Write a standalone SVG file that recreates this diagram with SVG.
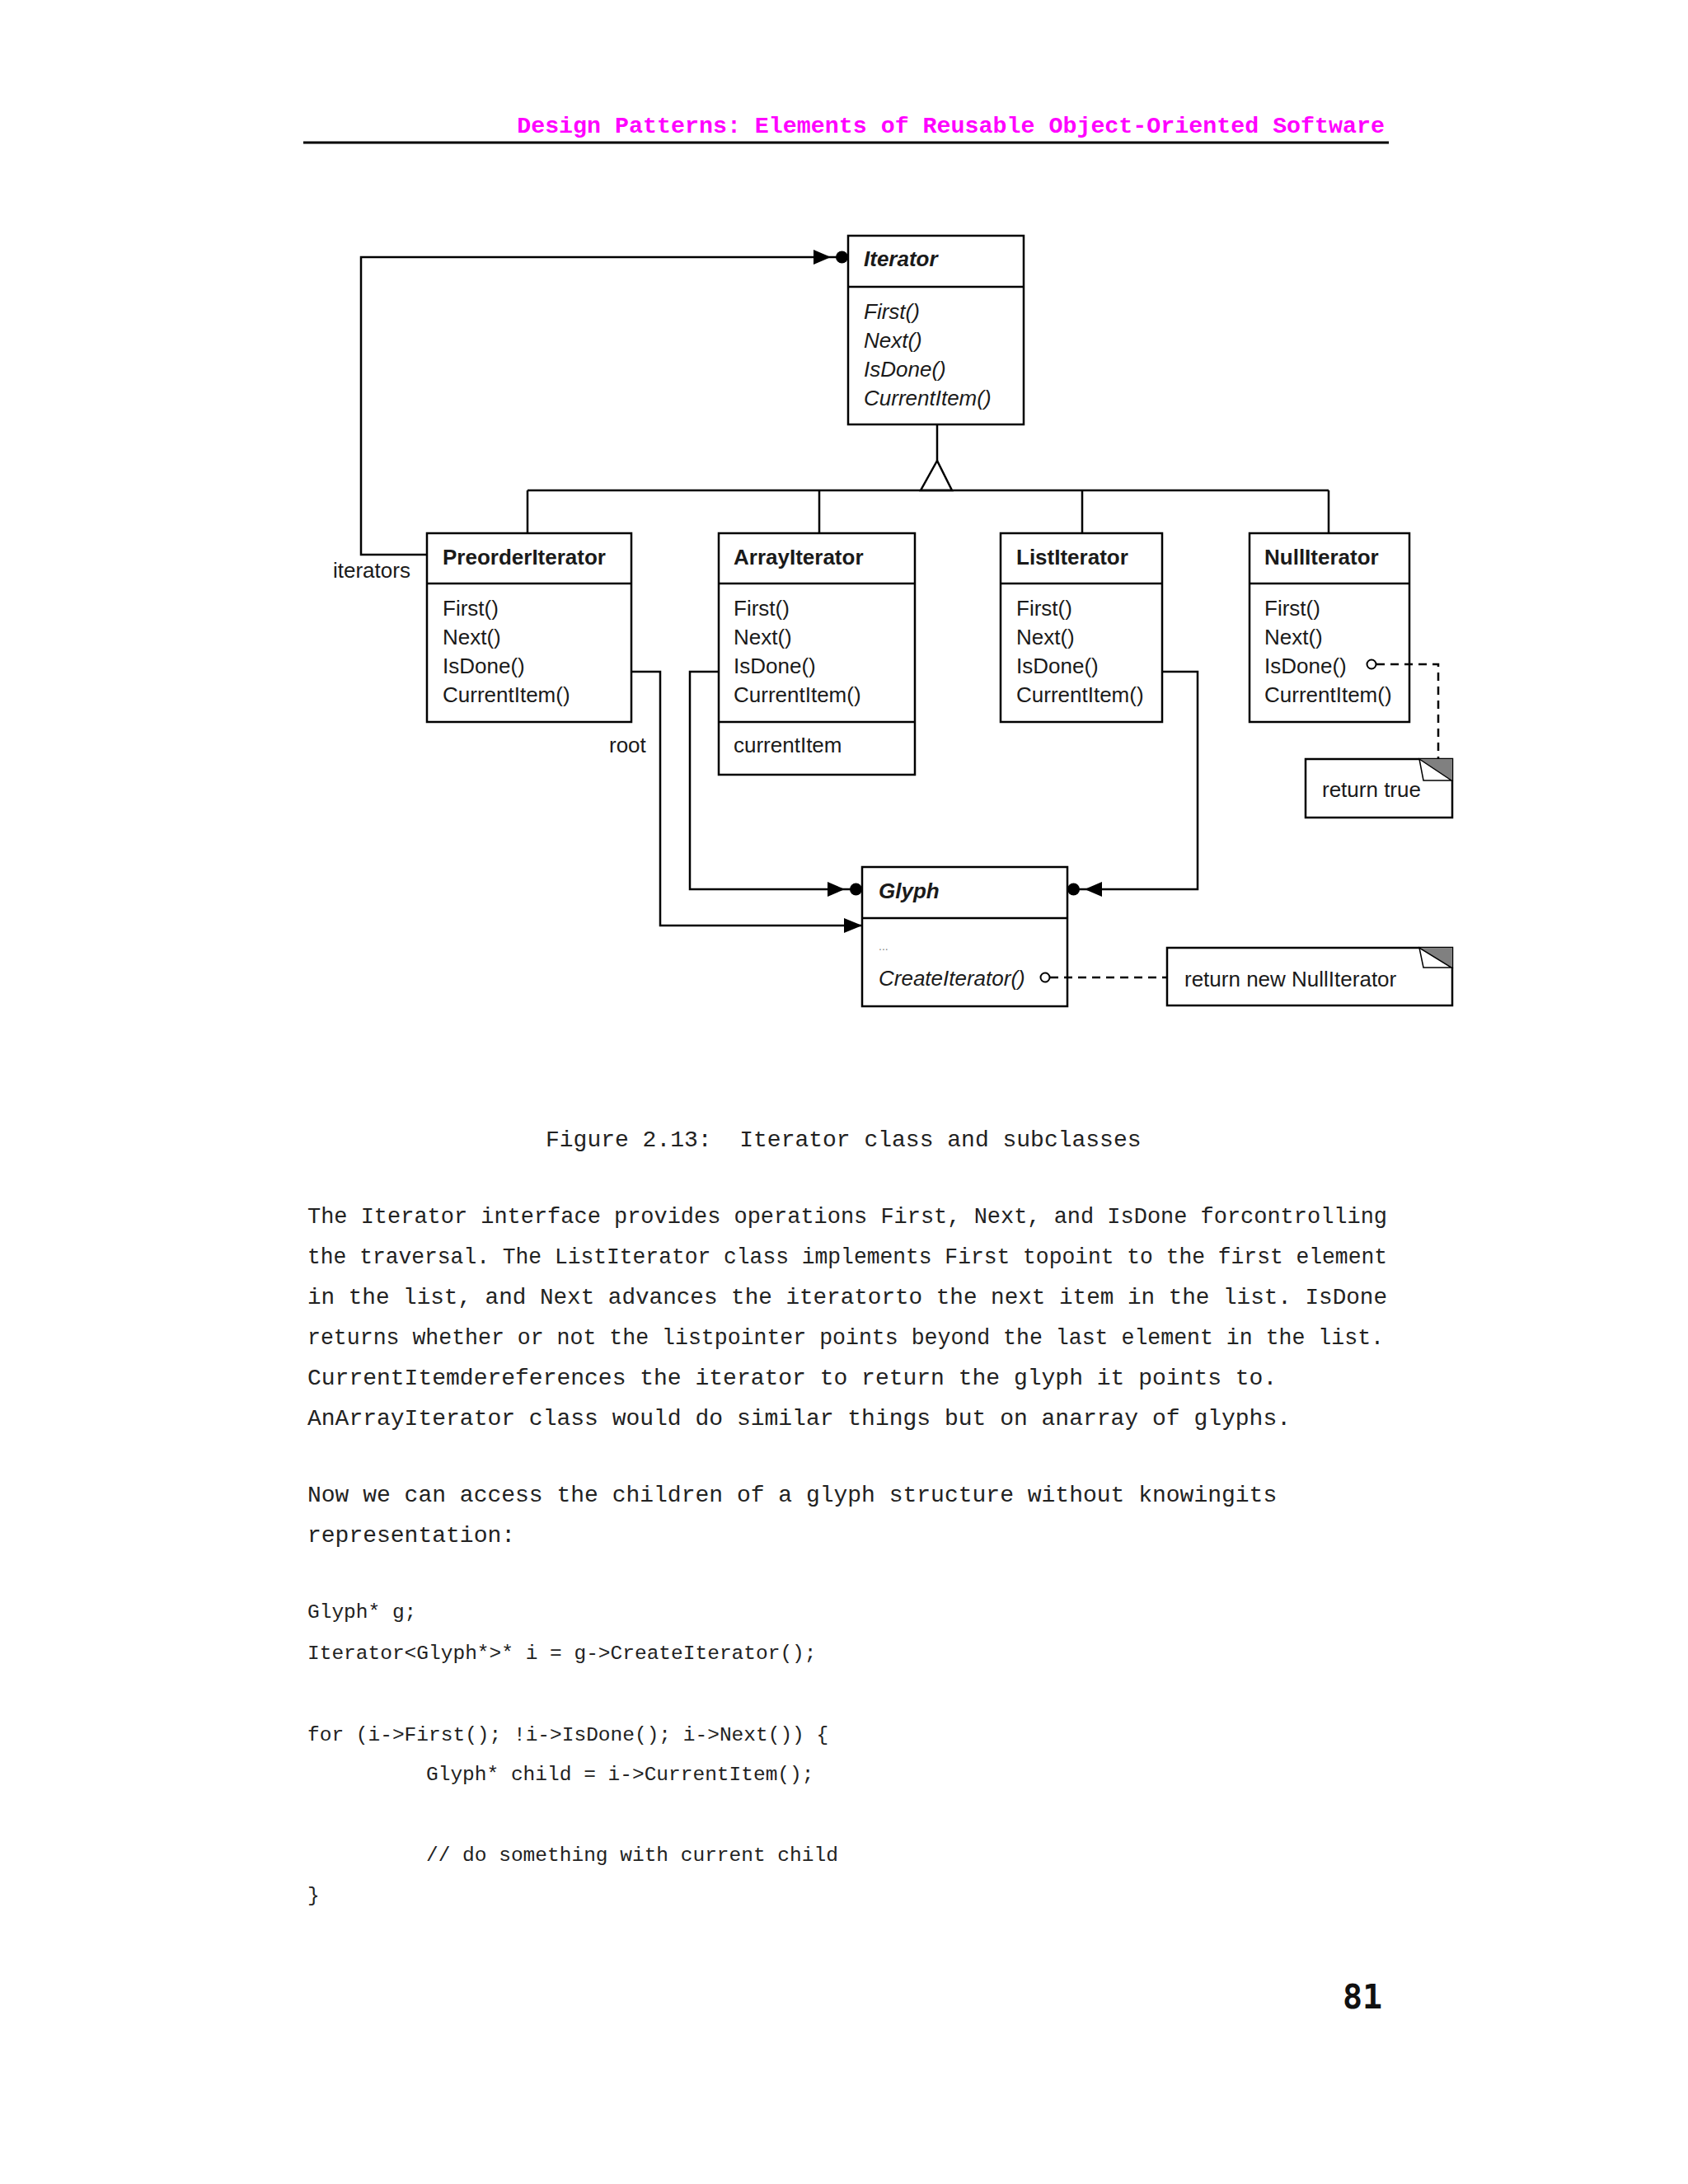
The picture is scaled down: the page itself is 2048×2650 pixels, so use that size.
<svg xmlns="http://www.w3.org/2000/svg" width="2048" height="2650" viewBox="0 0 2048 2650">
<style>
.bg{fill:#ffffff}
.box{fill:#ffffff;stroke:#000;stroke-width:2.5}
.div{stroke:#000;stroke-width:2.5}
.conn{fill:none;stroke:#000;stroke-width:2.5}
.dash{fill:none;stroke:#000;stroke-width:2.5;stroke-dasharray:10 7}
.t{font-family:"Liberation Sans",Arial,sans-serif;font-size:26px;fill:#1a1a1a}
.b{font-weight:bold}
.i{font-style:italic}
.mono{font-family:"Liberation Mono","Courier New",monospace;fill:#222}
.body{font-size:28px}
.code{font-size:24.5px}
.hdr{font-family:"Liberation Mono","Courier New",monospace;font-size:28.3px;font-weight:bold;fill:#ff00ff}
.ear{fill:#808080}
.fold{fill:#ffffff;stroke:#000;stroke-width:1.5}
.pin{fill:#ffffff;stroke:#000;stroke-width:2}
</style>
<defs>
<marker id="arrowDot" markerUnits="userSpaceOnUse" viewBox="-46 -12 48 24" refX="0" refY="0" markerWidth="48" markerHeight="24" orient="auto">
<polygon points="-42,-9 -42,9 -21,0" fill="#000"/>
<circle cx="-7.5" cy="0" r="7.5" fill="#000"/>
</marker>
<marker id="arrow" markerUnits="userSpaceOnUse" viewBox="-26 -12 28 24" refX="0" refY="0" markerWidth="28" markerHeight="24" orient="auto">
<polygon points="-22,-9 -22,9 0,0" fill="#000"/>
</marker>
</defs>
<rect class="bg" x="0" y="0" width="2048" height="2650"/>

<g id="header">
<text class="hdr" x="1680" y="161" text-anchor="end">Design Patterns: Elements of Reusable Object-Oriented Software</text>
<line x1="368" y1="173" x2="1685" y2="173" stroke="#000" stroke-width="3"/>
</g>

<g id="Iterator">
<rect class="box" x="1029" y="286" width="213" height="229"/>
<line class="div" x1="1029" y1="348" x2="1242" y2="348"/>
<text class="t b i" x="1048" y="323">Iterator</text>
<text class="t i" x="1048" y="387">First()</text>
<text class="t i" x="1048" y="422">Next()</text>
<text class="t i" x="1048" y="457">IsDone()</text>
<text class="t i" x="1048" y="492">CurrentItem()</text>
</g>

<g id="PreorderIterator">
<rect class="box" x="518" y="647" width="248" height="229"/>
<line class="div" x1="518" y1="708" x2="766" y2="708"/>
<text class="t b" x="537" y="685">PreorderIterator</text>
<text class="t" x="537" y="747">First()</text>
<text class="t" x="537" y="782">Next()</text>
<text class="t" x="537" y="817">IsDone()</text>
<text class="t" x="537" y="852">CurrentItem()</text>
</g>

<g id="ArrayIterator">
<rect class="box" x="872" y="647" width="238" height="293"/>
<line class="div" x1="872" y1="708" x2="1110" y2="708"/>
<line class="div" x1="872" y1="876" x2="1110" y2="876"/>
<text class="t b" x="890" y="685">ArrayIterator</text>
<text class="t" x="890" y="747">First()</text>
<text class="t" x="890" y="782">Next()</text>
<text class="t" x="890" y="817">IsDone()</text>
<text class="t" x="890" y="852">CurrentItem()</text>
<text class="t" x="890" y="913">currentItem</text>
</g>

<g id="ListIterator">
<rect class="box" x="1214" y="647" width="196" height="229"/>
<line class="div" x1="1214" y1="708" x2="1410" y2="708"/>
<text class="t b" x="1233" y="685">ListIterator</text>
<text class="t" x="1233" y="747">First()</text>
<text class="t" x="1233" y="782">Next()</text>
<text class="t" x="1233" y="817">IsDone()</text>
<text class="t" x="1233" y="852">CurrentItem()</text>
</g>

<g id="NullIterator">
<rect class="box" x="1516" y="647" width="194" height="229"/>
<line class="div" x1="1516" y1="708" x2="1710" y2="708"/>
<text class="t b" x="1534" y="685">NullIterator</text>
<text class="t" x="1534" y="747">First()</text>
<text class="t" x="1534" y="782">Next()</text>
<text class="t" x="1534" y="817">IsDone()</text>
<text class="t" x="1534" y="852">CurrentItem()</text>
</g>

<g id="note-return-true">
<rect class="box" x="1584" y="921" width="178" height="71"/>
<polygon class="ear" points="1722,921 1762,921 1762,947"/>
<polygon class="fold" points="1722,921 1727,947 1761,947"/>
<text class="t" x="1604" y="967">return true</text>
</g>

<g id="Glyph">
<rect class="box" x="1046" y="1052" width="249" height="169"/>
<line class="div" x1="1046" y1="1114" x2="1295" y2="1114"/>
<text class="t b i" x="1066" y="1090">Glyph</text>
<text class="t" x="1066" y="1153" style="font-size:14px;fill:#888">...</text>
<text class="t i" x="1066" y="1196">CreateIterator()</text>
</g>

<g id="note-return-new">
<rect class="box" x="1416" y="1150" width="346" height="70"/>
<polygon class="ear" points="1722,1150 1762,1150 1762,1174"/>
<polygon class="fold" points="1722,1150 1727,1174 1761,1174"/>
<text class="t" x="1437" y="1197">return new NullIterator</text>
</g>

<g id="connectors">
<path class="conn" d="M518,673 H438 V312 H1029" marker-end="url(#arrowDot)"/>
<path class="conn" d="M766,815 H801 V1123 H1046" marker-end="url(#arrow)"/>
<path class="conn" d="M872,815 H837 V1079 H1046" marker-end="url(#arrowDot)"/>
<path class="conn" d="M1410,815 H1453 V1079 H1295" marker-end="url(#arrowDot)"/>
<path class="conn" d="M1137,515 V559"/>
<polygon class="conn" points="1137,559 1117,595 1155,595" fill="#fff"/>
<path class="conn" d="M640,595 H1612 M640,595 V647 M994,595 V647 M1313,595 V647 M1612,595 V647"/>
<path class="dash" d="M1670,806 H1745 V921"/>
<circle class="pin" cx="1664" cy="806" r="5.5"/>
<path class="dash" d="M1274,1186 H1416"/>
<circle class="pin" cx="1268" cy="1186" r="5.5"/>
<text class="t" x="404" y="701">iterators</text>
<text class="t" x="739" y="913">root</text>
</g>

<g id="text">
<text class="mono body" x="662" y="1391" xml:space="preserve">Figure 2.13:  Iterator class and subclasses</text>
<text class="mono body" x="373" y="1484" textLength="1310" lengthAdjust="spacingAndGlyphs">The Iterator interface provides operations First, Next, and IsDone forcontrolling</text>
<text class="mono body" x="373" y="1533" textLength="1310" lengthAdjust="spacingAndGlyphs">the traversal. The ListIterator class implements First topoint to the first element</text>
<text class="mono body" x="373" y="1582" textLength="1310" lengthAdjust="spacingAndGlyphs">in the list, and Next advances the iteratorto the next item in the list. IsDone</text>
<text class="mono body" x="373" y="1631" textLength="1306" lengthAdjust="spacingAndGlyphs">returns whether or not the listpointer points beyond the last element in the list.</text>
<text class="mono body" x="373" y="1680">CurrentItemdereferences the iterator to return the glyph it points to.</text>
<text class="mono body" x="373" y="1729">AnArrayIterator class would do similar things but on anarray of glyphs.</text>
<text class="mono body" x="373" y="1822">Now we can access the children of a glyph structure without knowingits</text>
<text class="mono body" x="373" y="1871">representation:</text>
<text class="mono code" x="373" y="1963">Glyph* g;</text>
<text class="mono code" x="373" y="2013">Iterator&lt;Glyph*&gt;* i = g-&gt;CreateIterator();</text>
<text class="mono code" x="373" y="2112">for (i-&gt;First(); !i-&gt;IsDone(); i-&gt;Next()) {</text>
<text class="mono code" x="517" y="2160">Glyph* child = i-&gt;CurrentItem();</text>
<text class="mono code" x="517" y="2258">// do something with current child</text>
<text class="mono code" x="373" y="2307">}</text>
<text x="1629" y="2437" style="font-family:'DejaVu Sans Mono','Liberation Mono',monospace;font-size:40px;font-weight:bold;fill:#111">81</text>
</g>
</svg>
